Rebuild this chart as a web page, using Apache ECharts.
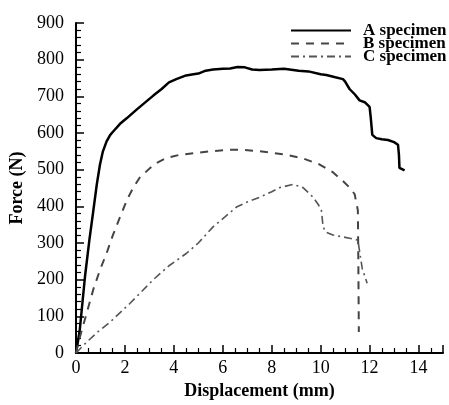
<!DOCTYPE html>
<html>
<head>
<meta charset="utf-8">
<script src="https://cdn.jsdelivr.net/npm/echarts@6/dist/echarts.min.js"></script>
<style>html,body{margin:0;padding:0;background:#fff}#c{width:449px;height:405px}</style>
</head>
<body>
<div id="c"></div>
<script>
const seriesNames = ['A specimen', 'B specimen', 'C specimen'];
const xTicks = [0, 2, 4, 6, 8, 10, 12, 14];
const yTicks = [0, 100, 200, 300, 400, 500, 600, 700, 800, 900];

const aDisp  = [0,0.15,0.37,0.55,0.71,0.85,0.98,1.1,1.25,1.4,1.52,1.8,2.07,2.5,3.0,3.16,3.5,3.8,4.1,4.5,4.8,5.0,5.3,5.6,6.0,6.3,6.6,6.9,7.2,7.5,8.0,8.5,9.1,9.5,10.0,10.23,10.6,10.91,11.0,11.18,11.4,11.59,11.8,12.0,12.05,12.11,12.27,12.5,12.75,13.0,13.16,13.2,13.22,13.43];
const aForce = [0,60,210,310,389,460,514,550,577,595,604,625,640,665,693,702,720,738,747,757,760,762,770,773,775,776,780,779,773,772,773,775,770,768,760,758,752,747,740,720,705,689,684,671,640,595,586,583,581,575,568,540,505,498];

const bDisp  = [0,0.1,0.4,0.71,1.0,1.25,1.5,1.8,2.1,2.34,2.6,2.89,3.2,3.7,4.2,4.79,5.5,6.15,6.8,7.51,8.0,8.6,9.3,9.96,10.5,10.91,11.2,11.39,11.52,11.54,11.56];
const bForce = [0,30,100,174,230,272,320,371,420,451,478,496,515,532,540,545,550,554,554,550,546,541,530,514,493,469,450,433,389,250,57];

const cDisp  = [0,0.44,0.9,1.39,2.2,3.16,3.8,4.52,5.0,5.6,6.1,6.56,7.0,7.51,8.0,8.33,8.87,9.28,9.69,9.9,10.03,10.1,10.2,10.5,11.18,11.52,11.7,11.9];
const cForce = [0,30,58,84,135,200,238,272,300,344,372,398,412,425,440,451,460,451,425,405,389,344,330,322,313,308,230,190];

const pairs = (xs, ys) => xs.map((x, i) => [x, ys[i]]);
const FONT = '"Liberation Serif", "Times New Roman", serif';

const chart = echarts.init(document.getElementById('c'), null, {renderer: 'canvas'});
chart.setOption({
  animation: false,
  backgroundColor: '#fff',
  grid: {left: 76, right: 6, top: 23, bottom: 47},
  legend: {
    orient: 'vertical',
    left: 290, top: 22, padding: 0,
    itemWidth: 60, itemHeight: 10, itemGap: -4,
    itemStyle: {opacity: 0},
    data: seriesNames,
    textStyle: {fontFamily: FONT, fontWeight: 'bold', fontSize: 17, color: '#000', padding: [0, 0, 0, 7]}
  },
  xAxis: {
    type: 'value', min: 0, max: 15, interval: 2,
    name: 'Displacement (mm)', nameLocation: 'middle', nameGap: 29,
    nameTextStyle: {fontFamily: FONT, fontWeight: 'bold', fontSize: 18, color: '#000'},
    axisLine: {show: true, onZero: false, lineStyle: {color: '#000', width: 2}},
    axisTick: {show: true, inside: true, length: 8, lineStyle: {width: 1.5}},
    minorTick: {show: true, splitNumber: 4, length: 5, lineStyle: {width: 1.2}},
    axisLabel: {fontFamily: FONT, fontSize: 18, color: '#000', margin: 6,
      formatter: v => xTicks.includes(v) ? String(v) : ''},
    splitLine: {show: false}
  },
  yAxis: {
    type: 'value', min: 0, max: 900, interval: 100,
    name: 'Force (N)', nameLocation: 'middle', nameGap: 46,
    nameTextStyle: {fontFamily: FONT, fontWeight: 'bold', fontSize: 18, color: '#000'},
    axisLine: {show: true, onZero: false, lineStyle: {color: '#000', width: 2}},
    axisTick: {show: true, inside: true, length: 8, lineStyle: {width: 1.5}},
    minorTick: {show: true, splitNumber: 5, length: 5, lineStyle: {width: 1.2}},
    axisLabel: {fontFamily: FONT, fontSize: 18, color: '#000', margin: 12,
      formatter: v => yTicks.includes(v) ? String(v) : ''},
    splitLine: {show: false}
  },
  series: [
    {name: seriesNames[0], type: 'line', data: pairs(aDisp, aForce), showSymbol: false, symbol: 'none',
     lineStyle: {color: '#000', width: 2.5}, itemStyle: {color: '#000'}},
    {name: seriesNames[1], type: 'line', data: pairs(bDisp, bForce), showSymbol: false, symbol: 'none',
     lineStyle: {color: '#444', width: 2, type: [8, 7]}, itemStyle: {color: '#444'}},
    {name: seriesNames[2], type: 'line', data: pairs(cDisp, cForce), showSymbol: false, symbol: 'none',
     lineStyle: {color: '#555', width: 1.6, type: [8, 4, 2, 4]}, itemStyle: {color: '#555'}}
  ]
});
</script>
</body>
</html>
